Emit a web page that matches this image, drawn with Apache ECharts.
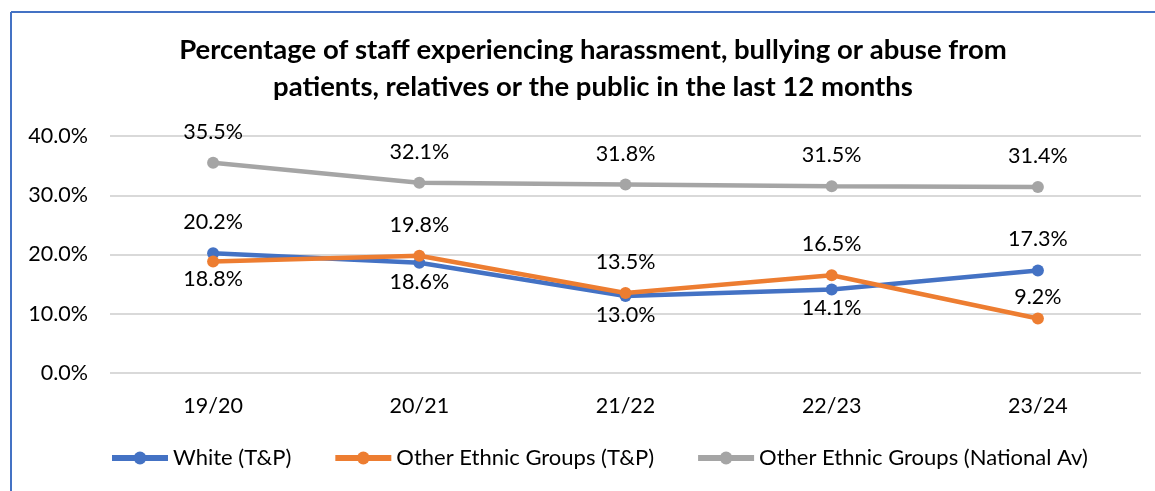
<!DOCTYPE html>
<html>
<head>
<meta charset="utf-8">
<script src="https://cdn.jsdelivr.net/npm/echarts@6/dist/echarts.min.js"></script>
<style>
html,body{margin:0;padding:0;background:#fff;}
#chart{width:1155px;height:491px;}
</style>
</head>
<body>
<div id="chart"></div>
<script>
var categories = ['19/20', '20/21', '21/22', '22/23', '23/24'];
var whiteTP = [20.2, 18.6, 13.0, 14.1, 17.3];
var otherTP = [18.8, 19.8, 13.5, 16.5, 9.2];
var otherNational = [35.5, 32.1, 31.8, 31.5, 31.4];
var yTicks = [0, 10, 20, 30, 40];
var seriesNames = ['White (T&P)', 'Other Ethnic Groups (T&P)', 'Other Ethnic Groups (National Av)'];

var FONT = 'Lato';
var FS = 21.5;
var whiteLabelPos = ['top', 'bottom', 'bottom', 'bottom', 'top'];
var otherLabelPos = ['bottom', 'top', 'top', 'top', 'top'];
var natLabelPos = ['top', 'top', 'top', 'top', 'top'];
var otherLabelDist = [0, 14, 14, 14, 4];

function mkData(vals, pos, dist) {
  return vals.map(function (v, i) {
    var d = dist ? dist[i] : (pos[i] === 'top' ? 14 : 2);
    return {
      value: v,
      label: { position: pos[i], distance: d }
    };
  });
}

function mkSeries(name, vals, pos, color, z, dist) {
  return {
    name: name,
    type: 'line',
    data: mkData(vals, pos, dist),
    symbol: 'circle',
    symbolSize: 12,
    z: z,
    lineStyle: { width: 4.5, color: color },
    itemStyle: { color: color },
    label: {
      show: true,
      fontFamily: FONT,
      fontSize: FS,
      color: '#000',
      formatter: function (p) { return p.value.toFixed(1) + '%'; }
    }
  };
}

var chart = echarts.init(document.getElementById('chart'));
chart.setOption({
  animation: false,
  backgroundColor: '#fff',
  textStyle: { fontFamily: FONT },
  title: {
    text: 'Percentage of staff experiencing harassment, bullying or abuse from\npatients, relatives or the public in the last 12 months',
    left: 588,
    textAlign: 'center',
    top: 27,
    textStyle: { fontFamily: FONT, fontSize: 27.5, fontWeight: 'bold', color: '#000', lineHeight: 37 }
  },
  graphic: [
    { type: 'line', shape: { x1: 11, y1: 12, x2: 1155, y2: 12 }, style: { stroke: '#4472C4', lineWidth: 2 } },
    { type: 'line', shape: { x1: 11, y1: 12, x2: 11, y2: 491 }, style: { stroke: '#4472C4', lineWidth: 2 } }
  ],
  grid: { left: 110, right: 14, top: 136, bottom: 118, containLabel: false },
  legend: {
    bottom: 17,
    left: 104,
    itemWidth: 56,
    itemHeight: 16,
    itemGap: 41,
    data: seriesNames,
    lineStyle: { width: 6 },
    textStyle: { fontFamily: FONT, fontSize: 22, color: '#000' }
  },
  xAxis: {
    type: 'category',
    data: categories,
    boundaryGap: true,
    axisLine: { show: false },
    axisTick: { show: false },
    axisLabel: { fontFamily: FONT, fontSize: FS, color: '#000', margin: 22 }
  },
  yAxis: {
    type: 'value',
    min: yTicks[0],
    max: yTicks[yTicks.length - 1],
    interval: 10,
    axisLine: { show: false },
    axisTick: { show: false },
    splitLine: { lineStyle: { color: '#d9d9d9', width: 2 } },
    axisLabel: { fontFamily: FONT, fontSize: FS, color: '#000', margin: 22,
      formatter: function (v) { return v.toFixed(1) + '%'; } }
  },
  series: [
    mkSeries(seriesNames[0], whiteTP, whiteLabelPos, '#4472C4', 3),
    mkSeries(seriesNames[1], otherTP, otherLabelPos, '#ED7D31', 4, otherLabelDist),
    mkSeries(seriesNames[2], otherNational, natLabelPos, '#A5A5A5', 2)
  ]
});
</script>
</body>
</html>
